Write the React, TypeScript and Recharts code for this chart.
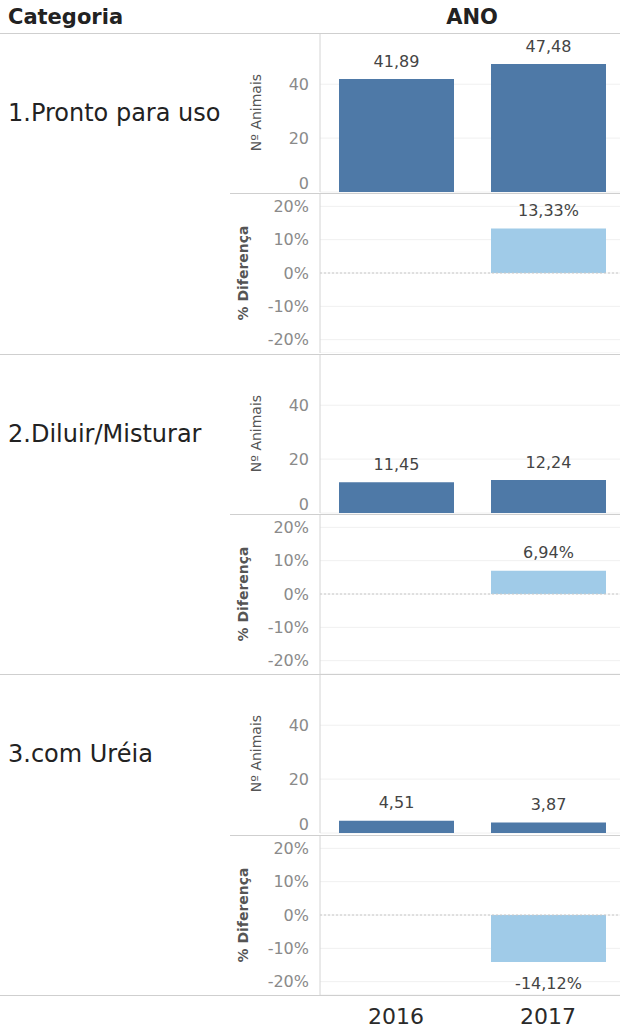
import React from 'react';
import { BarChart, Bar, XAxis, YAxis, CartesianGrid, ReferenceLine, LabelList } from 'recharts';

const years = ['2016', '2017'];
const categories = ['1.Pronto para uso', '2.Diluir/Misturar', '3.com Uréia'];
const animals2016 = [41.89, 11.45, 4.51];
const animals2017 = [47.48, 12.24, 3.87];
const diff2016: (number | null)[] = [null, null, null];
const diff2017 = [13.33, 6.94, -14.12];
const countTicks = [0, 20, 40];
const pctTicks = [-20, -10, 0, 10, 20];

const FONT = '"DejaVu Sans", "Open Sans", sans-serif';
const DARK = '#4e79a7';
const LIGHT = '#a0cbe8';
const TOP = 33;
const PANEL_H = 160.33;
const CHART_LEFT = 230;
const AXIS_W = 90;
const CHART_W = AXIS_W + 304;

const fmt = (v: number) => v.toFixed(2).replace('.', ',');

const CountTick = (props: any) => {
  const { x, y, payload } = props;
  const dy = payload.value === 0 ? -9 : 0;
  return (
    <text x={x} y={y + dy} textAnchor="end" dominantBaseline="central" fill="#8a8a8a" fontSize={16} fontFamily={FONT}>
      {payload.value}
    </text>
  );
};

const PctTick = (props: any) => {
  const { x, y, payload } = props;
  return (
    <text x={x} y={y} textAnchor="end" dominantBaseline="central" fill="#8a8a8a" fontSize={16} fontFamily={FONT}>
      {payload.value}%
    </text>
  );
};

const axisTitle = (text: string, xPos: number, bold: boolean) => (props: any) => {
  const vb = props.viewBox || { x: 0, y: 0, width: 0, height: 160 };
  const cx = xPos;
  const cy = vb.y + vb.height / 2;
  return (
    <text
      x={cx}
      y={cy}
      transform={`rotate(-90, ${cx}, ${cy})`}
      textAnchor="middle"
      dominantBaseline="central"
      fill="#555"
      fontSize={14}
      fontWeight={bold ? 700 : 400}
      fontFamily={FONT}
    >
      {text}
    </text>
  );
};

const valueLabel = (suffix: string) => (props: any) => {
  const { x, y, width, height, value } = props;
  if (value === null || value === undefined) return null;
  const top = Math.min(y, y + height);
  const bottom = Math.max(y, y + height);
  const ty = value >= 0 ? top - 18 : bottom + 21;
  return (
    <text x={x + width / 2} y={ty} textAnchor="middle" dominantBaseline="central" fill="#444" fontSize={16} fontFamily={FONT}>
      {fmt(value) + suffix}
    </text>
  );
};

const XTick = (props: any) => {
  const { x, y, payload } = props;
  return (
    <text x={x} y={y + 13} textAnchor="middle" dominantBaseline="central" fill="#2a2a2a" fontSize={22} fontFamily={FONT}>
      {payload.value}
    </text>
  );
};

function CountPanel({ idx }: { idx: number }) {
  const data = years.map((yr, j) => ({ year: yr, value: j === 0 ? animals2016[idx] : animals2017[idx] }));
  return (
    <BarChart width={CHART_W} height={160} data={data} margin={{ top: 0, right: 0, bottom: 1, left: 0 }} barSize={115}>
      <CartesianGrid horizontal vertical={false} stroke="#f0f0f0" />
      <XAxis dataKey="year" hide />
      <YAxis
        width={AXIS_W}
        domain={[0, 59]}
        ticks={countTicks}
        interval={0}
        tickSize={0}
        tickMargin={11}
        tickLine={false}
        axisLine={{ stroke: '#d4d4d4' }}
        tick={<CountTick />}
        label={axisTitle('Nº Animais', 26, false)}
      />
      <Bar dataKey="value" fill={DARK} isAnimationActive={false}>
        <LabelList dataKey="value" content={valueLabel('')} />
      </Bar>
    </BarChart>
  );
}

function PctPanel({ idx, last }: { idx: number; last: boolean }) {
  const data = years.map((yr, j) => ({ year: yr, value: j === 0 ? diff2016[idx] : diff2017[idx] }));
  return (
    <BarChart width={CHART_W} height={last ? 196 : 160} data={data} margin={{ top: 0, right: 0, bottom: 0, left: 0 }} barSize={115}>
      <CartesianGrid horizontal vertical={false} stroke="#f0f0f0" />
      <XAxis dataKey="year" hide={!last} height={36} axisLine={false} tickLine={false} tick={<XTick />} />
      <YAxis
        width={AXIS_W}
        domain={[-24, 24]}
        ticks={pctTicks}
        interval={0}
        tickSize={0}
        tickMargin={11}
        tickLine={false}
        axisLine={{ stroke: '#d4d4d4' }}
        tick={<PctTick />}
        label={axisTitle('% Diferença', 13, true)}
      />
      <ReferenceLine y={0} stroke="#c8c8c8" strokeDasharray="2 2" />
      <Bar dataKey="value" fill={LIGHT} isAnimationActive={false}>
        <LabelList dataKey="value" content={valueLabel('%')} />
      </Bar>
    </BarChart>
  );
}

const hLine = (y: number, left: number, key: string) => (
  <div key={key} style={{ position: 'absolute', left, top: Math.round(y), width: 620 - left, height: 1, background: '#cfcfcf' }} />
);

export default function App() {
  return (
    <div style={{ position: 'absolute', left: 0, top: 0, width: 620, height: 1031, background: '#fff', fontFamily: FONT, overflow: 'hidden' }}>
      <div style={{ position: 'absolute', left: 8, top: 5, fontSize: 21, lineHeight: '24px', fontWeight: 700, color: '#222' }}>Categoria</div>
      <div style={{ position: 'absolute', left: 322, width: 300, top: 5, fontSize: 21, lineHeight: '24px', fontWeight: 700, color: '#222', textAlign: 'center' }}>ANO</div>
      {categories.map((c, i) => (
        <div key={c} style={{ position: 'absolute', left: 8, top: TOP + i * 2 * PANEL_H + 65, fontSize: 24, lineHeight: '30px', color: '#222', whiteSpace: 'nowrap' }}>
          {c}
        </div>
      ))}
      {categories.map((c, i) => (
        <React.Fragment key={'p' + i}>
          <div style={{ position: 'absolute', left: CHART_LEFT, top: Math.round(TOP + i * 2 * PANEL_H) }}>
            <CountPanel idx={i} />
          </div>
          <div style={{ position: 'absolute', left: CHART_LEFT, top: Math.round(TOP + (i * 2 + 1) * PANEL_H) }}>
            <PctPanel idx={i} last={i === categories.length - 1} />
          </div>
        </React.Fragment>
      ))}
      {hLine(TOP, 0, 'h0')}
      {categories.map((c, i) => hLine(TOP + (i * 2 + 1) * PANEL_H, CHART_LEFT, 'm' + i))}
      {categories.map((c, i) => hLine(TOP + (i * 2 + 2) * PANEL_H, 0, 'd' + i))}
    </div>
  );
}
